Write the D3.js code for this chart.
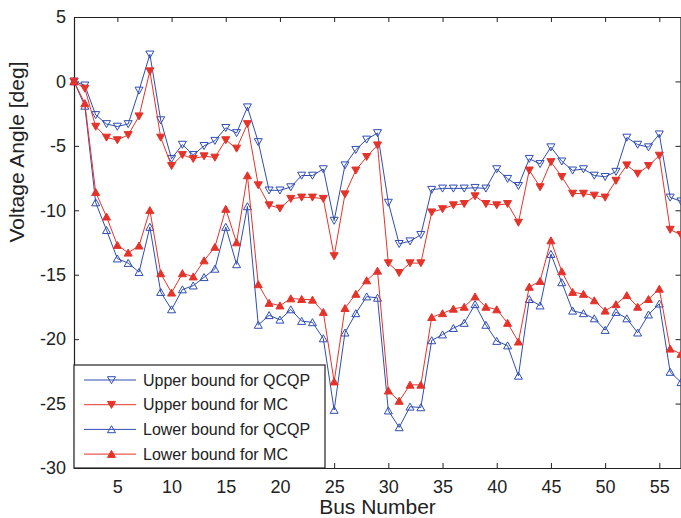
<!DOCTYPE html>
<html>
<head>
<meta charset="utf-8">
<script src="https://cdn.jsdelivr.net/npm/d3@7"></script>
<style>
  body { margin: 0; background: #fff; }
  svg { display: block; font-family: "Liberation Sans", Arial, sans-serif; }
</style>
</head>
<body>
<div id="chart"></div>
<script>
// Voltage angle bounds per bus
const upperQCQP = [0, -0.3, -2.6, -3.3, -3.5, -3.3, -0.7, 2.1, -3.0, -6.0,
  -4.9, -5.7, -5.0, -4.6, -3.6, -4.0, -2.0, -4.7, -8.45, -8.45,
  -8.2, -7.3, -7.3, -6.8, -10.8, -6.5, -5.3, -4.5, -4.0, -9.4,
  -12.6, -12.4, -11.9, -8.4, -8.3, -8.3, -8.3, -8.25, -8.3, -6.8,
  -7.55, -8.1, -6.0, -6.4, -5.1, -6.2, -6.9, -6.8, -7.3, -7.4,
  -7.0, -4.35, -4.9, -5.1, -4.1, -9.0, -9.3];
const upperMC = [0, -0.55, -3.5, -4.35, -4.55, -4.15, -2.7, 0.8, -4.35, -6.55,
  -5.7, -6.0, -5.8, -5.9, -4.55, -5.2, -3.3, -8.05, -9.6, -9.85,
  -9.1, -9.0, -9.0, -9.1, -13.55, -8.75, -6.9, -5.85, -4.95, -14.1,
  -14.85, -14.1, -14.1, -10.15, -9.9, -9.6, -9.5, -8.9, -9.5, -9.6,
  -9.5, -10.95, -6.9, -8.2, -6.25, -7.4, -8.7, -8.7, -8.85, -9.0,
  -7.7, -6.5, -7.15, -6.55, -5.75, -11.5, -11.9];
const lowerQCQP = [0, -1.9, -9.4, -11.55, -13.75, -14.1, -14.8, -11.3, -16.35, -17.7,
  -16.15, -15.85, -15.2, -14.55, -11.3, -14.2, -9.7, -18.9, -18.15, -18.5,
  -17.7, -18.6, -18.7, -19.95, -25.5, -19.5, -18.0, -16.7, -16.8, -25.55,
  -26.85, -25.25, -25.3, -20.1, -19.65, -19.15, -18.75, -17.3, -18.9, -20.15,
  -20.5, -22.85, -16.9, -17.4, -13.4, -15.6, -17.8, -18.0, -18.4, -19.3,
  -17.9, -18.4, -19.5, -18.1, -17.25, -22.55, -23.35];
const lowerMC = [0, -1.7, -8.6, -10.5, -12.7, -13.3, -12.75, -10.0, -14.9, -16.4,
  -14.9, -15.15, -13.9, -12.85, -9.9, -12.5, -7.3, -15.75, -17.2, -17.4,
  -16.85, -16.9, -16.95, -17.9, -23.3, -17.6, -16.5, -15.45, -14.7, -24.0,
  -24.8, -23.55, -23.55, -18.3, -18.0, -17.65, -17.5, -16.7, -17.5, -17.7,
  -18.75, -20.2, -15.95, -15.5, -12.35, -14.75, -16.35, -16.5, -17.0, -17.8,
  -17.3, -16.6, -17.5, -16.9, -16.1, -20.75, -21.15];

const xTicks = [5, 10, 15, 20, 25, 30, 35, 40, 45, 50, 55];
const yTicks = [5, 0, -5, -10, -15, -20, -25, -30];

const BLUE = '#2f4db2';
const RED = '#e5332a';

const series = [
  { name: 'Upper bound for QCQP', values: upperQCQP, color: BLUE, marker: 'down', filled: false },
  { name: 'Upper bound for MC', values: upperMC, color: RED, marker: 'down', filled: true },
  { name: 'Lower bound for QCQP', values: lowerQCQP, color: BLUE, marker: 'up', filled: false },
  { name: 'Lower bound for MC', values: lowerMC, color: RED, marker: 'up', filled: true }
];

const W = 681, H = 518;
const margin = { top: 17, right: 0, bottom: 50, left: 74 };
const width = W - margin.left - margin.right;
const height = H - margin.top - margin.bottom;

const svg = d3.select('#chart').append('svg')
  .attr('width', W)
  .attr('height', H);

const g = svg.append('g')
  .attr('transform', `translate(${margin.left},${margin.top})`);

const x = d3.scaleLinear().domain([1, 57]).range([0, width]);
const y = d3.scaleLinear().domain([-30, 5]).range([height, 0]);

// Marker shapes
function markerPath(type) {
  return type === 'down'
    ? 'M-4,-3.3L4,-3.3L0,3.7Z'
    : 'M-4,3.3L4,3.3L0,-3.7Z';
}

// plain hyphen for negatives, like the original
const fmt = d => String(d);

// Axes: MATLAB-style box with inward ticks
const tickLen = 5;
g.append('g')
  .attr('transform', `translate(0,${height})`)
  .call(d3.axisBottom(x).tickValues(xTicks).tickSizeInner(-tickLen).tickSizeOuter(0).tickPadding(12).tickFormat(fmt));
g.append('g')
  .call(d3.axisTop(x).tickValues(xTicks).tickSizeInner(-tickLen).tickSizeOuter(0).tickFormat(''));
g.append('g')
  .call(d3.axisLeft(y).tickValues(yTicks).tickSizeInner(-tickLen).tickSizeOuter(0).tickPadding(8).tickFormat(fmt));
g.append('g')
  .attr('transform', `translate(${width - 0.5},0)`)
  .call(d3.axisRight(y).tickValues(yTicks).tickSizeInner(-tickLen).tickSizeOuter(0).tickFormat(''));

g.selectAll('.domain').attr('stroke', '#222').attr('stroke-width', 1.2);
g.selectAll('.tick line').attr('stroke', '#222');
g.selectAll('.tick text').attr('font-size', 18).attr('fill', '#222');

// Lines and markers
const line = d3.line()
  .x((d, i) => x(i + 1))
  .y(d => y(d));

series.forEach(s => {
  g.append('path')
    .datum(s.values)
    .attr('fill', 'none')
    .attr('stroke', s.color)
    .attr('stroke-width', 1)
    .attr('d', line);

  g.append('g')
    .selectAll('path')
    .data(s.values)
    .enter()
    .append('path')
    .attr('transform', (d, i) => `translate(${x(i + 1)},${y(d)})`)
    .attr('d', markerPath(s.marker))
    .attr('fill', s.filled ? s.color : 'none')
    .attr('stroke', s.color)
    .attr('stroke-width', 1);
});

// Legend
const legend = g.append('g')
  .attr('transform', `translate(0,${y(-30) - 103})`);

legend.append('rect')
  .attr('x', 0)
  .attr('y', 0)
  .attr('width', 251)
  .attr('height', 103)
  .attr('fill', '#fff')
  .attr('stroke', '#222')
  .attr('stroke-width', 1.2);

const items = legend.selectAll('.legend-item')
  .data(series)
  .enter()
  .append('g')
  .attr('class', 'legend-item')
  .attr('transform', (d, i) => `translate(0,${15 + i * 24.7})`);

items.append('line')
  .attr('x1', 10)
  .attr('x2', 62)
  .attr('stroke', d => d.color)
  .attr('stroke-width', 1);

items.append('path')
  .attr('transform', 'translate(37.5,0)')
  .attr('d', d => markerPath(d.marker))
  .attr('fill', d => d.filled ? d.color : 'none')
  .attr('stroke', d => d.color);

items.append('text')
  .attr('x', 69)
  .attr('dy', '0.35em')
  .attr('font-size', 16)
  .attr('fill', '#222')
  .text(d => d.name);

// Axis titles
svg.append('text')
  .attr('x', margin.left + width / 2)
  .attr('y', 514)
  .attr('text-anchor', 'middle')
  .attr('font-size', 21)
  .attr('fill', '#222')
  .text('Bus Number');

svg.append('text')
  .attr('transform', 'translate(24,152) rotate(-90)')
  .attr('text-anchor', 'middle')
  .attr('font-size', 21)
  .attr('fill', '#222')
  .text('Voltage Angle [deg]');
</script>
</body>
</html>
